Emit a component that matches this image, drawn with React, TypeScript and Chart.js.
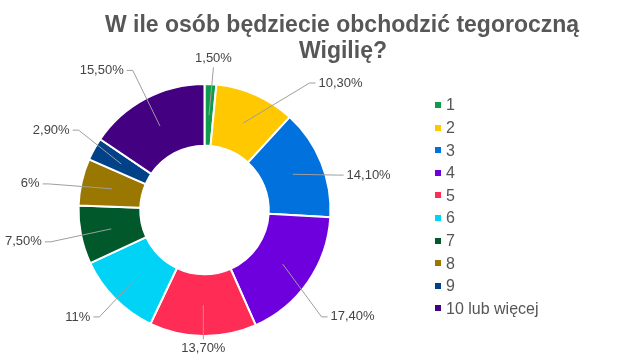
import React, { useEffect, useRef } from "react";
import { Chart, registerables } from "chart.js";

Chart.register(...registerables);

const titleLines = ["W ile osób będziecie obchodzić tegoroczną", "Wigilię?"];
const categories = ["1", "2", "3", "4", "5", "6", "7", "8", "9", "10 lub więcej"];
const shares = [1.5, 10.3, 14.1, 17.4, 13.7, 11, 7.5, 6, 2.9, 15.5];
const valueLabels = ["1,50%", "10,30%", "14,10%", "17,40%", "13,70%", "11%", "7,50%", "6%", "2,90%", "15,50%"];
const colors = [
  "#0f9a4c",
  "#ffc800",
  "#0071dd",
  "#6f00de",
  "#ff2c55",
  "#00d3f5",
  "#00582b",
  "#9a7700",
  "#004187",
  "#430080",
];

// callout elbow placement (angle in degrees clockwise from top, radius as factor of outer radius)
const calloutAngles = [3.6, 39.6, 75.3, 132.4, 180.5, 224.5, 258.3, 279.5, 302.4, 332.8];
const calloutRadii = [1.135, 1.308, 1.092, 1.258, 1.027, 1.19, 1.246, 1.254, 1.183, 1.246];
const calloutVertical = [true, false, false, false, true, false, false, false, false, false];

const FONT = '"Liberation Sans", Arial, Helvetica, sans-serif';

const decorPlugin = {
  id: "decor",
  afterDatasetsDraw(chart: any) {
    const ctx = chart.ctx as CanvasRenderingContext2D;
    const meta = chart.getDatasetMeta(0);
    ctx.save();
    // callouts
    meta.data.forEach((arc: any, i: number) => {
      const p = arc.getProps(["x", "y", "startAngle", "endAngle", "innerRadius", "outerRadius"], true);
      const mid = (p.startAngle + p.endAngle) / 2;
      const rMid = (p.innerRadius + p.outerRadius) / 2;
      const ax = p.x + Math.cos(mid) * rMid;
      const ay = p.y + Math.sin(mid) * rMid;
      const ea = ((calloutAngles[i] - 90) * Math.PI) / 180;
      const er = calloutRadii[i] * p.outerRadius;
      const ex = p.x + Math.cos(ea) * er;
      const ey = p.y + Math.sin(ea) * er;
      ctx.strokeStyle = "#9e9e9e";
      ctx.lineWidth = 1;
      ctx.font = `13px ${FONT}`;
      ctx.fillStyle = "#444444";
      ctx.textBaseline = "middle";
      ctx.beginPath();
      ctx.moveTo(ax, ay);
      ctx.lineTo(ex, ey);
      if (calloutVertical[i]) {
        ctx.stroke();
        const up = ey < p.y ? -1 : 1;
        ctx.textAlign = "center";
        ctx.fillText(valueLabels[i], ex, ey + up * 9);
      } else {
        const dir = ex >= p.x ? 1 : -1;
        ctx.lineTo(ex + dir * 6, ey);
        ctx.stroke();
        ctx.textAlign = dir > 0 ? "left" : "right";
        ctx.fillText(valueLabels[i], ex + dir * 9, ey);
      }
    });
    // title
    ctx.fillStyle = "#575757";
    ctx.font = `bold 23px ${FONT}`;
    ctx.textAlign = "center";
    ctx.textBaseline = "alphabetic";
    ctx.fillText(titleLines[0], 342, 32);
    ctx.fillText(titleLines[1], 343, 58);
    // legend
    ctx.font = `16px ${FONT}`;
    ctx.textAlign = "left";
    ctx.textBaseline = "middle";
    categories.forEach((c, i) => {
      const cy = 105 + i * 22.6;
      ctx.fillStyle = colors[i];
      ctx.fillRect(435, Math.round(cy) - 3, 6, 6);
      ctx.fillStyle = "#555555";
      ctx.fillText(c, 446, cy + 1);
    });
    ctx.restore();
  },
};

export default function App() {
  const ref = useRef<HTMLCanvasElement | null>(null);
  useEffect(() => {
    document.body.style.margin = "0";
    const canvas = ref.current!;
    const chart = new Chart(canvas, {
      type: "doughnut",
      data: {
        labels: categories,
        datasets: [
          {
            data: shares,
            backgroundColor: colors,
            borderColor: "#ffffff",
            borderWidth: 2,
          },
        ],
      },
      options: {
        responsive: false,
        animation: false,
        cutout: "51%",
        layout: { padding: { left: 77, right: 289, top: 83, bottom: 27 } },
        plugins: {
          legend: { display: false },
          title: { display: false },
          tooltip: { enabled: false },
        },
      },
      plugins: [decorPlugin],
    });
    return () => chart.destroy();
  }, []);
  return (
    <div style={{ width: 621, height: 364, background: "#ffffff" }}>
      <canvas ref={ref} width={621} height={364} style={{ display: "block", width: 621, height: 364 }} />
    </div>
  );
}
